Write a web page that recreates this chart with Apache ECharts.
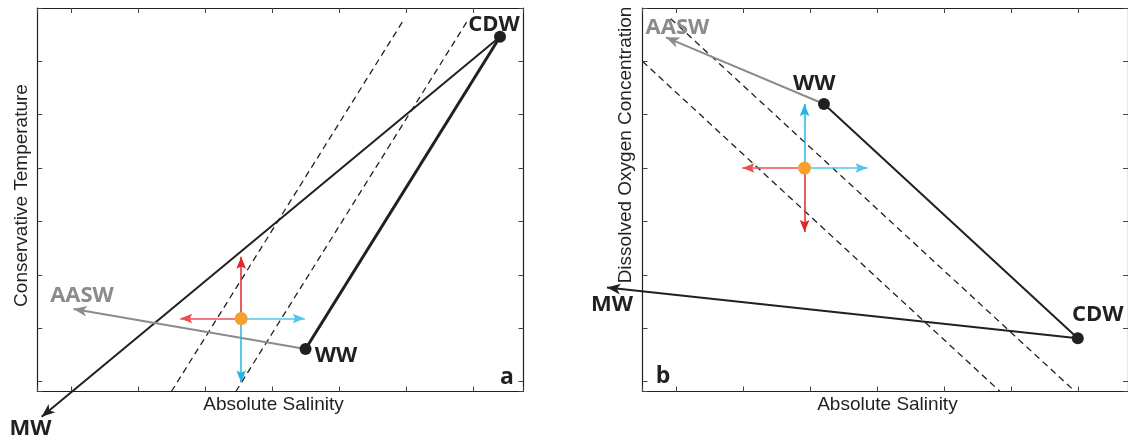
<!DOCTYPE html>
<html>
<head>
<meta charset="utf-8">
<script src="https://cdn.jsdelivr.net/npm/echarts@6/dist/echarts.min.js"></script>
<style>
  html, body { margin: 0; padding: 0; background: #ffffff; }
  #chart { width: 1128px; height: 441px; }
</style>
</head>
<body>
<div id="chart"></div>
<script>
// Shared axis extents (unlabelled, ticks every unit)
const salinityRange = [0.5, 7.75];
const tracerRange = [0.8125, 8];

// ---- Panel a: Absolute Salinity vs Conservative Temperature ----
const tsCDW = [7.40, 7.46];
const tsWW = [4.50, 1.61];
const tsMW = [0.565, 0.34];      // meltwater end of the CDW mixing line
const tsAASW = [1.04, 2.36];     // surface-water end of the WW mixing line
const tsSample = [3.54, 2.18];
const tsWarmer = [3.54, 3.34];
const tsColder = [3.54, 0.98];
const tsFresher = [2.63, 2.18];
const tsSaltier = [4.49, 2.18];
const tsDashedA = [[2.50, 0.8125], [5.95, 7.75]];
const tsDashedB = [[3.46, 0.8125], [6.92, 7.77]];

// ---- Panel b: Absolute Salinity vs Dissolved Oxygen Concentration ----
const doCDW = [7.00, 1.81];
const doWW = [3.21, 6.20];
const doMW = [-0.03, 2.76];
const doAASW = [0.85, 7.45];
const doSample = [2.92, 5.00];
const doMoreO2 = [2.92, 6.20];
const doLessO2 = [2.92, 3.80];
const doFresher = [1.99, 5.00];
const doSaltier = [3.86, 5.00];
const doDashedA = [[0.50, 7.00], [5.84, 0.8125]];
const doDashedB = [[0.92, 7.80], [6.96, 0.8125]];

const INK = '#231f20';
const GREY = '#8b8b8b';
const RED = '#e2262c';
const RED_SOFT = '#ea5257';
const BLUE = '#27b3e6';
const BLUE_SOFT = '#55c4ee';
const ORANGE = '#f6a12f';

// Arrow heads pointing up, tip at the centre of a square box so that the tip sits on the line end
const smallHead = 'path://M-9,-9L-9,-9M9,9L9,9M0,0L3.6,9L0,7.4L-3.6,9Z';
const bigHead = 'path://M-11,-11L-11,-11M11,11L11,11M0,0L4.4,11L0,8L-4.4,11Z';

function axis(gridIndex, position, range) {
  return {
    type: 'value', gridIndex, position,
    min: range[0], max: range[1], minInterval: 1, maxInterval: 1,
    axisLine: { show: true, onZero: false, lineStyle: { color: INK, width: 1.2 } },
    axisTick: { show: true, inside: true, length: 5, lineStyle: { color: '#444444', width: 1 } },
    axisLabel: { show: false },
    splitLine: { show: false }
  };
}

function linesSeries(panel, segments, opts) {
  return Object.assign({
    type: 'lines', coordinateSystem: 'cartesian2d',
    xAxisIndex: panel * 2, yAxisIndex: panel * 2,
    polyline: false, silent: true, animation: false,
    symbol: ['none', 'none'], symbolSize: [0, 0],
    data: segments.map(s => ({
      coords: [s.from, s.to],
      lineStyle: { color: s.color, width: s.width, opacity: 1, type: s.type || 'solid', curveness: 0 }
    }))
  }, opts);
}

function dotSeries(panel, points, size, color, z) {
  return {
    type: 'scatter', xAxisIndex: panel * 2, yAxisIndex: panel * 2,
    symbol: 'circle', symbolSize: size, silent: true, animation: false, clip: false, z,
    itemStyle: { color, opacity: 1 },
    label: {
      show: true, position: 'inside', formatter: '{b}',
      fontFamily: '"Open Sans", "DejaVu Sans", sans-serif', fontWeight: 700, fontSize: 22, color: INK
    },
    data: points
  };
}

const labelStyle = (offset, color) => ({ offset, color: color || INK });

const dash = [6.5, 4.5];

const series = [
  // panel a
  linesSeries(0, [
    { from: tsDashedA[0], to: tsDashedA[1], color: INK, width: 1.3, type: dash },
    { from: tsDashedB[0], to: tsDashedB[1], color: INK, width: 1.3, type: dash }
  ], { z: 2 }),
  linesSeries(0, [
    { from: tsCDW, to: tsWW, color: INK, width: 3 }
  ], { z: 3 }),
  linesSeries(0, [
    { from: tsCDW, to: tsMW, color: INK, width: 2 },
    { from: tsWW, to: tsAASW, color: GREY, width: 2 }
  ], { z: 3, clip: false, symbol: ['none', bigHead], symbolSize: [0, 27] }),
  linesSeries(0, [
    { from: tsSample, to: tsWarmer, color: RED, width: 1.5 },
    { from: tsSample, to: tsFresher, color: RED_SOFT, width: 1.5 },
    { from: tsSample, to: tsSaltier, color: BLUE_SOFT, width: 1.5 },
    { from: tsSample, to: tsColder, color: BLUE, width: 1.5 }
  ], { z: 4, symbol: ['none', smallHead], symbolSize: [0, 24] }),
  dotSeries(0, [
    { name: 'CDW', value: tsCDW, label: labelStyle([-6, -12.5]) },
    { name: 'WW', value: tsWW, label: labelStyle([30.5, 6.6]) }
  ], 12, INK, 6),
  dotSeries(0, [
    { name: 'AASW', value: tsAASW, label: labelStyle([8.5, -12.7], GREY) },
    { name: 'MW', value: tsMW, label: labelStyle([-11.2, 12.5]) }
  ], 0, 'rgba(0,0,0,0)', 6),
  dotSeries(0, [{ name: '', value: tsSample }], 13, ORANGE, 7),

  // panel b
  linesSeries(1, [
    { from: doDashedA[0], to: doDashedA[1], color: INK, width: 1.3, type: dash },
    { from: doDashedB[0], to: doDashedB[1], color: INK, width: 1.3, type: dash }
  ], { z: 2 }),
  linesSeries(1, [
    { from: doWW, to: doCDW, color: INK, width: 2 }
  ], { z: 3 }),
  linesSeries(1, [
    { from: doCDW, to: doMW, color: INK, width: 2 },
    { from: doWW, to: doAASW, color: GREY, width: 2 }
  ], { z: 3, clip: false, symbol: ['none', bigHead], symbolSize: [0, 27] }),
  linesSeries(1, [
    { from: doSample, to: doMoreO2, color: BLUE, width: 1.5 },
    { from: doSample, to: doFresher, color: RED_SOFT, width: 1.5 },
    { from: doSample, to: doSaltier, color: BLUE_SOFT, width: 1.5 },
    { from: doSample, to: doLessO2, color: RED, width: 1.5 }
  ], { z: 4, symbol: ['none', smallHead], symbolSize: [0, 24] }),
  dotSeries(1, [
    { name: 'WW', value: doWW, label: labelStyle([-9.8, -20.1]) },
    { name: 'CDW', value: doCDW, label: labelStyle([19.9, -23.3]) }
  ], 12, INK, 6),
  dotSeries(1, [
    { name: 'AASW', value: doAASW, label: labelStyle([11.5, -9.4], GREY) },
    { name: 'MW', value: doMW, label: labelStyle([4.9, 17]) }
  ], 0, 'rgba(0,0,0,0)', 6),
  dotSeries(1, [{ name: '', value: doSample }], 13, ORANGE, 7)
];

const axisFont = '19px "Liberation Sans", Arial, sans-serif';
const letterFont = 'bold 23px "Open Sans", "DejaVu Sans", sans-serif';

function text(x, y, str, font, rotation) {
  return {
    type: 'text', x, y, rotation: rotation || 0, silent: true, z: 10,
    style: { text: str, font, fill: INK, align: 'center', verticalAlign: 'middle', textAlign: 'center', textVerticalAlign: 'middle' }
  };
}

const option = {
  backgroundColor: '#ffffff',
  animation: false,
  grid: [
    { left: 37.3, top: 8, width: 486.2, height: 383.5 },
    { left: 642.5, top: 8, width: 486.2, height: 383.5 }
  ],
  xAxis: [
    axis(0, 'bottom', salinityRange), axis(0, 'top', salinityRange),
    axis(1, 'bottom', salinityRange), axis(1, 'top', salinityRange)
  ],
  yAxis: [
    axis(0, 'left', tracerRange), axis(0, 'right', tracerRange),
    axis(1, 'left', tracerRange), axis(1, 'right', tracerRange)
  ],
  graphic: [
    text(21.5, 195.5, 'Conservative Temperature', axisFont, Math.PI / 2),
    text(273.5, 405, 'Absolute Salinity', axisFont),
    text(626, 145, 'Dissolved Oxygen Concentration', axisFont, Math.PI / 2),
    text(887.4, 405, 'Absolute Salinity', axisFont),
    text(507, 377, 'a', letterFont),
    text(663, 376, 'b', letterFont)
  ],
  series
};

const chart = echarts.init(document.getElementById('chart'), null, { renderer: 'canvas' });
chart.setOption(option);
</script>
</body>
</html>
